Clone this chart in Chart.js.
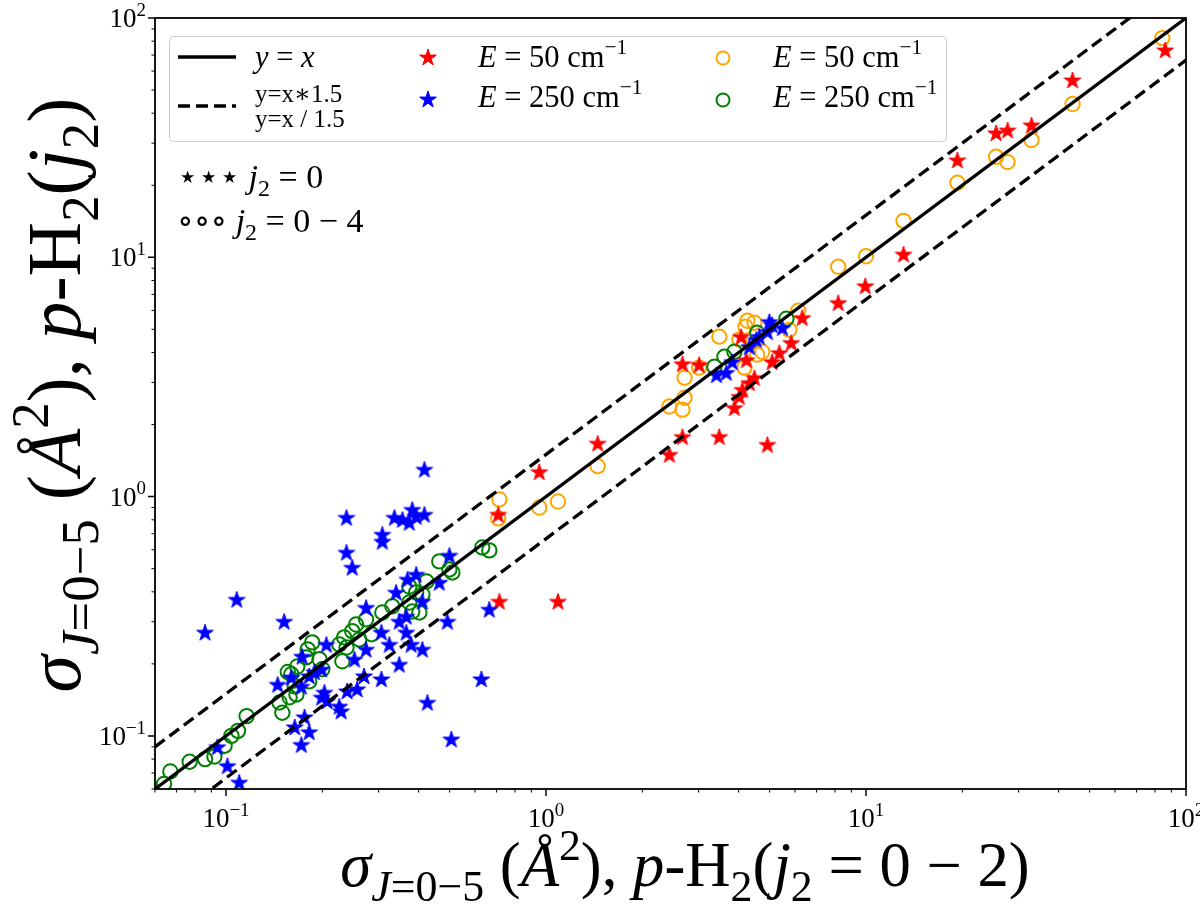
<!DOCTYPE html>
<html>
<head>
<meta charset="utf-8">
<script src="https://cdn.jsdelivr.net/npm/chart.js@4.4.1/dist/chart.umd.min.js"></script>
<style>
  html, body { margin: 0; padding: 0; background: #fff; }
  #wrap { width: 1200px; height: 910px; position: relative; }
</style>
</head>
<body>
<div id="wrap"><canvas id="chart"></canvas></div>
<script>
// Axis range, both axes logarithmic
const axisMin = 0.06;
const axisMax = 100;
const decades = [-1, 0, 1, 2];

// Reference lines y = x, y = 1.5x, y = x/1.5
const refX = [0.06, 100];
const equalY = [0.06, 100];
const upperY = [0.09, 150];
const lowerY = [0.04, 66.67];

// E = 50 cm-1, j2 = 0 (red stars)
const red50X = [86.1, 44.2, 25.5, 27.7, 32.9, 19.3, 13.1, 9.95, 8.19, 6.32,
  4.07, 5.84, 5.36, 5.09, 4.23, 2.67, 3.01, 4.48, 4.32, 4.11,
  4.02, 3.88, 2.67, 3.48, 4.92, 2.43, 1.45, 0.953, 0.709, 0.715, 1.09];
const red50Y = [73.5, 55.1, 33.1, 34.0, 35.7, 25.5, 10.3, 7.6, 6.46, 5.59,
  4.66, 4.40, 3.99, 3.66, 3.73, 3.59, 3.56, 3.14, 2.99, 2.80,
  2.62, 2.35, 1.78, 1.78, 1.65, 1.50, 1.67, 1.27, 0.842, 0.365, 0.365];

// E = 250 cm-1, j2 = 0 (blue stars)
const blue250X = [4.99, 5.48, 4.92, 4.54, 4.32, 3.82, 3.41, 3.66, 5.09, 4.64,
  0.417, 0.238, 0.336, 0.382, 0.374, 0.417, 0.356, 0.393, 0.308, 0.308, 0.238, 0.248, 0.499, 0.393, 0.369, 0.464, 0.340, 0.108,
  0.086, 0.152, 0.665, 0.492, 0.628, 0.426, 0.506, 0.411, 0.274, 0.348, 0.366, 0.306, 0.366, 0.324, 0.379, 0.411,
  0.206, 0.274, 0.252, 0.348, 0.173, 0.199, 0.189, 0.270, 0.306, 0.160, 0.145, 0.172, 0.239, 0.257,
  0.203, 0.199, 0.226, 0.229, 0.176, 0.164, 0.182, 0.172, 0.094, 0.101, 0.110, 0.182, 0.207];
const blue250Y = [5.38, 5.08, 4.89, 4.53, 4.23, 3.66, 3.23, 3.30, 5.22, 4.66,
  1.30, 0.818, 0.818, 0.883, 0.780, 0.842, 0.802, 0.826, 0.695, 0.650, 0.585, 0.506, 0.568, 0.473, 0.451, 0.438, 0.398, 0.372,
  0.271, 0.301, 0.338, 0.301, 0.173, 0.138, 0.097, 0.365, 0.344, 0.301, 0.316, 0.271, 0.271, 0.241, 0.241, 0.230,
  0.241, 0.230, 0.209, 0.199, 0.215, 0.190, 0.185, 0.178, 0.173, 0.176, 0.164, 0.161, 0.154, 0.157,
  0.152, 0.145, 0.133, 0.127, 0.120, 0.109, 0.104, 0.092, 0.090, 0.075, 0.064, 0.178, 0.140];

// E = 50 cm-1, j2 = 0-4 (orange circles)
const orange50X = [84.3, 44.2, 25.5, 27.7, 32.9, 19.3, 13.1, 10.0, 8.19, 6.14,
  3.48, 4.26, 4.48, 4.20, 4.02, 4.74, 4.57, 4.17, 3.01, 2.71,
  2.71, 2.43, 2.67, 5.76, 1.45, 0.715, 0.709, 0.953, 1.09];
const orange50Y = [82.4, 43.7, 26.3, 25.0, 30.9, 20.5, 14.2, 10.1, 9.13, 5.98,
  4.66, 5.43, 5.33, 5.13, 4.53, 4.03, 3.92, 3.46, 3.46, 3.14,
  2.59, 2.38, 2.31, 4.97, 1.34, 0.973, 0.811, 0.90, 0.954];

// E = 250 cm-1, j2 = 0-4 (green circles)
const green250X = [5.64, 4.57, 3.61, 3.36, 3.88, 0.632, 0.665, 0.464, 0.499, 0.510,
  0.423, 0.374, 0.393, 0.411, 0.374, 0.331, 0.382, 0.402, 0.308, 0.274,
  0.255, 0.285, 0.248, 0.234, 0.226, 0.238, 0.261, 0.186, 0.180, 0.196,
  0.178, 0.167, 0.200, 0.160, 0.182, 0.164, 0.166, 0.147, 0.150, 0.116,
  0.109, 0.104, 0.099, 0.092, 0.086, 0.077, 0.067, 0.064, 0.231, 0.156, 0.158];
const green250Y = [5.54, 4.84, 3.84, 3.49, 4.03, 0.613, 0.596, 0.536, 0.496, 0.482,
  0.442, 0.421, 0.398, 0.390, 0.361, 0.348, 0.331, 0.328, 0.328, 0.307,
  0.292, 0.266, 0.274, 0.258, 0.241, 0.234, 0.253, 0.246, 0.230, 0.209,
  0.213, 0.195, 0.190, 0.181, 0.169, 0.161, 0.149, 0.138, 0.125, 0.121,
  0.105, 0.100, 0.091, 0.082, 0.080, 0.078, 0.071, 0.063, 0.205, 0.185, 0.145];

const SERIF = '"Liberation Serif", "DejaVu Serif", serif';

function zip(xs, ys) {
  return xs.map((x, i) => ({ x: x, y: ys[i] }));
}

// Filled five-point star used as point style
function makeStar(color) {
  const size = 20;
  const c = document.createElement('canvas');
  c.width = size;
  c.height = size;
  const g = c.getContext('2d');
  const R = 8.8, r = R * 0.382;
  g.beginPath();
  for (let k = 0; k < 10; k++) {
    const a = -Math.PI / 2 + k * Math.PI / 5;
    const rad = k % 2 ? r : R;
    g.lineTo(size / 2 + rad * Math.cos(a), size / 2 + 0.8 + rad * Math.sin(a));
  }
  g.closePath();
  g.fillStyle = color;
  g.fill();
  g.lineWidth = 1;
  g.strokeStyle = color;
  g.stroke();
  return c;
}

const redStar = makeStar('#ff0000');
const blueStar = makeStar('#0000ff');

// Text with italic / sub / sup runs
function partFont(p, size) {
  const s = (p.sub || p.sup) ? size * 0.7 : size;
  return (p.i ? 'italic ' : '') + s.toFixed(1) + 'px ' + SERIF;
}

function richWidth(ctx, parts, size) {
  let w = 0;
  parts.forEach(p => {
    ctx.font = partFont(p, size);
    w += ctx.measureText(p.t).width;
  });
  return w;
}

function drawRich(ctx, parts, x, y, size, align) {
  const w = richWidth(ctx, parts, size);
  let cx = align === 'center' ? x - w / 2 : (align === 'right' ? x - w : x);
  ctx.textAlign = 'left';
  ctx.textBaseline = 'alphabetic';
  parts.forEach(p => {
    ctx.font = partFont(p, size);
    const dy = p.sub ? size * 0.24 : (p.sup ? -size * 0.42 : 0);
    ctx.fillText(p.t, cx, y + dy);
    cx += ctx.measureText(p.t).width;
  });
  return w;
}

function fitSize(ctx, parts, target, base) {
  return base * target / richWidth(ctx, parts, base);
}

const xTitle = [
  { t: 'σ', i: true }, { t: 'J', i: true, sub: true }, { t: '=0−5', sub: true },
  { t: ' (' }, { t: 'Å', i: true }, { t: '2', sup: true }, { t: '), ' },
  { t: 'p', i: true }, { t: '-H' }, { t: '2', sub: true }, { t: '(' },
  { t: 'j', i: true }, { t: '2', sub: true }, { t: ' = 0 − 2)' }
];
const yTitle = [
  { t: 'σ', i: true }, { t: 'J', i: true, sub: true }, { t: '=0−5', sub: true },
  { t: ' (' }, { t: 'Å', i: true }, { t: '2', sup: true }, { t: '), ' },
  { t: 'p', i: true }, { t: '-H' }, { t: '2', sub: true }, { t: '(' },
  { t: 'j', i: true }, { t: '2', sub: true }, { t: ')' }
];

const e50 = [{ t: 'E', i: true }, { t: ' = 50 cm' }, { t: '−1', sup: true }];
const e250 = [{ t: 'E', i: true }, { t: ' = 250 cm' }, { t: '−1', sup: true }];

const decorPlugin = {
  id: 'decor',
  afterDraw(chart) {
    const ctx = chart.ctx;
    const a = chart.chartArea;
    const xs = chart.scales.x;
    const ys = chart.scales.y;
    ctx.save();
    ctx.fillStyle = '#000';
    ctx.strokeStyle = '#000';

    // frame
    ctx.lineWidth = 1.8;
    ctx.strokeRect(a.left, a.top, a.right - a.left, a.bottom - a.top);

    // ticks, major and minor
    for (let d = -2; d <= 2; d++) {
      for (let m = 1; m <= 9; m++) {
        const v = m * Math.pow(10, d);
        if (v < axisMin - 1e-9 || v > axisMax + 1e-9) continue;
        const len = m === 1 ? 7 : 3.5;
        ctx.lineWidth = m === 1 ? 1.5 : 1;
        const px = xs.getPixelForValue(v);
        const py = ys.getPixelForValue(v);
        ctx.beginPath();
        ctx.moveTo(px, a.bottom);
        ctx.lineTo(px, a.bottom + len);
        ctx.moveTo(a.left, py);
        ctx.lineTo(a.left - len, py);
        ctx.stroke();
      }
    }

    // tick labels
    decades.forEach(d => {
      const v = Math.pow(10, d);
      const lab = [{ t: '10' }, { t: d < 0 ? '−' + (-d) : String(d), sup: true }];
      drawRich(ctx, lab, xs.getPixelForValue(v), a.bottom + 38, 27, 'center');
      drawRich(ctx, lab, a.left - 9, ys.getPixelForValue(v) + 9, 27, 'right');
    });

    // axis titles
    const xs1 = fitSize(ctx, xTitle, 690, 40);
    drawRich(ctx, xTitle, 685, 886, xs1, 'center');
    const ys1 = fitSize(ctx, yTitle, 595, 40);
    ctx.save();
    ctx.translate(80, 395);
    ctx.rotate(-Math.PI / 2);
    drawRich(ctx, yTitle, 0, 0, ys1, 'center');
    ctx.restore();

    // legend box
    ctx.beginPath();
    ctx.roundRect(169.5, 36.5, 777, 105, 4);
    ctx.fillStyle = 'rgba(255,255,255,0.85)';
    ctx.fill();
    ctx.strokeStyle = '#cccccc';
    ctx.lineWidth = 1;
    ctx.stroke();

    ctx.strokeStyle = '#000';
    ctx.fillStyle = '#000';
    ctx.lineWidth = 3.3;
    ctx.beginPath();
    ctx.moveTo(178, 57);
    ctx.lineTo(236, 57);
    ctx.stroke();
    ctx.setLineDash([12, 6]);
    ctx.beginPath();
    ctx.moveTo(178, 106);
    ctx.lineTo(236, 106);
    ctx.stroke();
    ctx.setLineDash([]);

    const ls = fitSize(ctx, e50, 149, 22);
    drawRich(ctx, [{ t: 'y', i: true }, { t: ' = ' }, { t: 'x', i: true }], 255, 67, ls, 'left');
    drawRich(ctx, [{ t: 'y=x∗1.5' }], 255, 102, ls * 0.82, 'left');
    drawRich(ctx, [{ t: 'y=x / 1.5' }], 255, 127, ls * 0.82, 'left');

    ctx.drawImage(redStar, 428 - 10, 57 - 10);
    ctx.drawImage(blueStar, 428 - 10, 99 - 10);
    drawRich(ctx, e50, 478, 67, ls, 'left');
    drawRich(ctx, e250, 478, 107, ls, 'left');

    ctx.lineWidth = 2;
    ctx.strokeStyle = '#ffa500';
    ctx.beginPath();
    ctx.arc(723, 58, 6.5, 0, Math.PI * 2);
    ctx.stroke();
    ctx.strokeStyle = '#008000';
    ctx.beginPath();
    ctx.arc(723, 100, 6.5, 0, Math.PI * 2);
    ctx.stroke();
    drawRich(ctx, e50, 773, 67, ls, 'left');
    drawRich(ctx, e250, 773, 107, ls, 'left');

    // marker notes
    const ns = ls * 1.12;
    drawRich(ctx, [{ t: '⋆⋆⋆ ' }, { t: 'j', i: true }, { t: '2', sub: true }, { t: ' = 0' }], 177, 188, ns, 'left');
    drawRich(ctx, [{ t: '∘∘∘ ' }, { t: 'j', i: true }, { t: '2', sub: true }, { t: ' = 0 − 4' }], 177, 232, ns, 'left');

    ctx.restore();
  }
};

const lineStyle = { showLine: true, pointRadius: 0, borderColor: '#000', borderWidth: 3.3, fill: false, clip: 0 };

new Chart(document.getElementById('chart'), {
  type: 'scatter',
  data: {
    datasets: [
      Object.assign({ label: 'y = x', data: zip(refX, equalY), order: 0 }, lineStyle),
      Object.assign({ label: 'y=x*1.5', data: zip(refX, upperY), borderDash: [12, 6], order: 0 }, lineStyle),
      Object.assign({ label: 'y=x / 1.5', data: zip(refX, lowerY), borderDash: [12, 6], order: 0 }, lineStyle),
      { label: 'E = 250 cm-1, j2 = 0', data: zip(blue250X, blue250Y), pointStyle: blueStar, pointRadius: 9, order: 1 },
      { label: 'E = 50 cm-1, j2 = 0', data: zip(red50X, red50Y), pointStyle: redStar, pointRadius: 9, order: 2 },
      { label: 'E = 250 cm-1, j2 = 0-4', data: zip(green250X, green250Y), pointStyle: 'circle', pointRadius: 7.2,
        borderColor: '#008000', borderWidth: 2, backgroundColor: 'rgba(0,0,0,0)', order: 3 },
      { label: 'E = 50 cm-1, j2 = 0-4', data: zip(orange50X, orange50Y), pointStyle: 'circle', pointRadius: 7.2,
        borderColor: '#ffa500', borderWidth: 2, backgroundColor: 'rgba(0,0,0,0)', order: 4 }
    ]
  },
  options: {
    responsive: true,
    maintainAspectRatio: false,
    animation: false,
    layout: { padding: { left: 155, right: 14, top: 18, bottom: 121 } },
    plugins: {
      legend: { display: false },
      tooltip: { enabled: false }
    },
    scales: {
      x: { type: 'logarithmic', min: axisMin, max: axisMax, display: false },
      y: { type: 'logarithmic', min: axisMin, max: axisMax, display: false }
    }
  },
  plugins: [decorPlugin]
});
</script>
</body>
</html>
